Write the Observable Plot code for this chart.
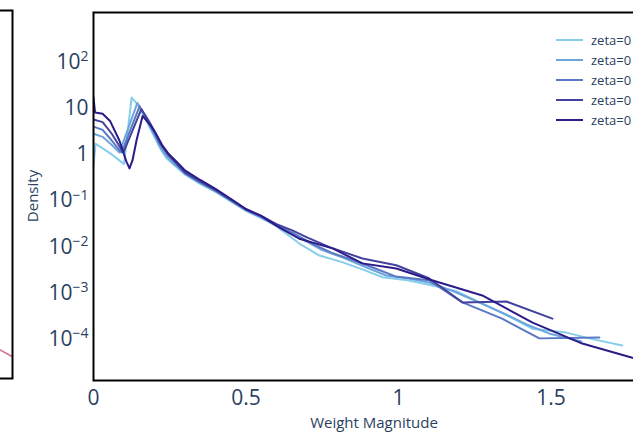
<!DOCTYPE html>
<html><head><meta charset="utf-8">
<script src="https://cdn.jsdelivr.net/npm/d3@7"></script>
<script src="https://cdn.jsdelivr.net/npm/@observablehq/plot@0.6"></script>
<style>
html,body{margin:0;padding:0;background:#fff;overflow:hidden;width:633px;height:432px;}
#wrap{position:relative;width:633px;height:432px;overflow:hidden;}
#main,#left{position:absolute;left:0;top:0;}
</style></head><body><div id="wrap"><div id="main"></div><div id="left"></div></div>
<script>
const seriesNames = ["zeta=0", "zeta=0", "zeta=0", "zeta=0", "zeta=0"];
const seriesColors = ["#87ceeb", "#6ca5dc", "#5a78c4", "#43429f", "#2c1b88"];

const weight1 = [0, .007, .03, .06, .09, .1, .125, .145, .175, .2, .22, .24, .27, .3, .35, .4, .45, .5, .55, .6, .675, .741, .81, .88, .948, 1.03, 1.111, 1.19, 1.275, 1.36, 1.439, 1.551, 1.64, 1.734];
const density1 = [.6, 1.7, 1.35, 1.0, .7, .62, 17, 12, 5, 2.4, 1.3, .82, .55, .37, .23, .155, .096, .06, .042, .028, .0118, .0065, .0048, .0033, .0022, .0019, .00146, .0011, .00059, .00032, .00017, .00014, .0001, 7.4e-5];

const weight2 = [0, .03, .06, .085, .144, .17, .195, .215, .235, .26, .3, .35, .4, .45, .5, .56, .62, .69, .75, .82, .89, .96, 1.03, 1.1, 1.18, 1.26, 1.34, 1.42, 1.5, 1.6];
const density2 = [2.8, 2.4, 1.6, 1.1, 13, 6.5, 3.0, 1.6, 1.0, .66, .38, .24, .16, .1, .062, .041, .026, .014, .0085, .0058, .0037, .0024, .0021, .0017, .0011, .00065, .00038, .00021, .00013, 9e-5];

const weight3 = [0, .03, .06, .092, .151, .175, .2, .22, .24, .265, .3, .35, .4, .45, .5, .55, .6, .66, .72, .78, .85, .92, .99, 1.1, 1.21, 1.34, 1.462, 1.659];
const density3 = [4.0, 3.4, 2.0, 1.1, 11, 6, 2.9, 1.6, 1.05, .7, .39, .25, .165, .102, .063, .044, .029, .019, .0115, .0075, .0052, .0035, .0023, .0019, .00063, .00028, .000105, .00011];

const weight4 = [0, .03, .06, .098, .157, .18, .2, .22, .24, .265, .3, .35, .4, .45, .5, .55, .6, .65, .7, .774, .882, .993, 1.1, 1.21, 1.354, 1.505];
const density4 = [5.7, 5, 2.8, 1.1, 9.5, 5.5, 3.2, 1.7, 1.1, .72, .41, .26, .17, .105, .065, .047, .031, .023, .016, .0099, .0056, .0040, .0021, .00063, .00066, .00028];

const weight5 = [0, .005, .03, .055, .085, .108, .118, .128, .141, .161, .185, .205, .225, .245, .27, .3, .35, .4, .45, .5, .55, .61, .675, .784, .882, .993, 1.11, 1.275, 1.44, 1.603, 1.767, 1.85];
const density5 = [17, 8.1, 7.6, 5.2, 2.0, .7, .5, .75, 2.0, 6.8, 4.4, 2.8, 1.6, 1.05, .72, .45, .28, .18, .11, .066, .047, .026, .015, .0093, .0044, .0034, .0019, .00089, .00023, 8.1e-5, 4.0e-5, 3.0e-5];

const xTicks = [0, 0.5, 1, 1.5];
const xTickLabels = ["0", "0.5", "1", "1.5"];
const yTicks = [1e-4, 1e-3, 1e-2, 1e-1, 1, 10, 100];
const yTickLabels = ["10^-4", "10^-3", "10^-2", "10^-1", "1", "10", "10^2"];
const xTitle = "Weight Magnitude";
const yTitle = "Density";

const leftPanelWeight = [0.7, 1.0];
const leftPanelDensity = [6.3e-5, 3.8e-5];

const seriesData = [[weight1, density1], [weight2, density2], [weight3, density3], [weight4, density4], [weight5, density5]];
const rows = [];
seriesData.forEach(([xs, ys], i) => xs.forEach((x, j) => rows.push({series: i, name: seriesNames[i], x, y: ys[j]})));

const FONT = "'Open Sans', sans-serif";
const INK = "#2a3f5f";

const main = Plot.plot({
  width: 633, height: 432,
  marginTop: 12, marginBottom: 52, marginLeft: 93, marginRight: -22,
  style: {fontFamily: FONT, fontSize: "21px", color: INK, background: "transparent", overflow: "visible"},
  x: {domain: [0, 1.843], ticks: xTicks, tickFormat: d => xTickLabels[xTicks.indexOf(d)], tickSize: 0, tickPadding: 10, label: null},
  y: {type: "log", domain: [Math.pow(10, -4.89), Math.pow(10, 3.07)], ticks: yTicks, tickFormat: d => yTickLabels[yTicks.indexOf(d)], tickSize: 0, tickPadding: 5, label: null},
  color: {domain: [0, 1, 2, 3, 4], range: seriesColors},
  marks: [
    Plot.line(rows, {x: "x", y: "y", z: "series", stroke: "series", strokeWidth: 2, clip: true}),
    Plot.frame({stroke: "black", strokeWidth: 2})
  ]
});

const svg = d3.select(main.tagName === "svg" ? main : main.querySelector("svg"));
svg.selectAll('g[aria-label^="y-axis"] text').each(function () {
  const t = this.textContent;
  if (t.includes("^")) {
    const [b, e] = t.split("^");
    const sel = d3.select(this);
    sel.text(null);
    sel.append("tspan").text(b);
    sel.append("tspan").attr("dy", "-0.55em").attr("font-size", "14px").text(e.replace("-", "\u2212"));
  }
});

svg.append("text").attr("x", 374).attr("y", 428).attr("text-anchor", "middle")
  .attr("font-family", FONT).attr("font-size", 15).attr("fill", INK).text(xTitle);
svg.append("text").attr("transform", "translate(38,196) rotate(-90)").attr("text-anchor", "middle")
  .attr("font-family", FONT).attr("font-size", 15).attr("fill", INK).text(yTitle);

const legend = svg.append("g");
seriesNames.forEach((n, i) => {
  const yy = 40 + i * 20;
  legend.append("line").attr("x1", 556).attr("x2", 583).attr("y1", yy).attr("y2", yy)
    .attr("stroke", seriesColors[i]).attr("stroke-width", 2);
  legend.append("text").attr("x", 591).attr("y", yy).attr("dy", "0.35em").attr("text-anchor", "start")
    .attr("font-family", FONT).attr("font-size", 13).attr("fill", INK).text(n);
});

document.getElementById("main").appendChild(main);

const left = Plot.plot({
  width: 13, height: 432,
  marginTop: 10, marginBottom: 54, marginLeft: -50, marginRight: 1,
  style: {background: "transparent", overflow: "visible"},
  x: {domain: [0, 1], axis: null},
  y: {type: "log", domain: [Math.pow(10, -4.89), Math.pow(10, 3.07)], axis: null},
  marks: [
    Plot.line(leftPanelWeight.map((x, i) => ({x, y: leftPanelDensity[i]})), {x: "x", y: "y", stroke: "#d6708f", strokeWidth: 1.5}),
    Plot.frame({stroke: "black", strokeWidth: 2})
  ]
});
document.getElementById("left").appendChild(left);
</script></body></html>
